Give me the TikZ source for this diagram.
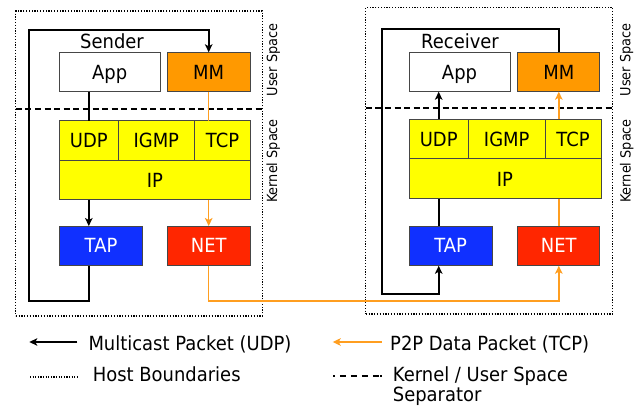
\documentclass[tikz,border=0pt]{standalone}
\usepackage{fontspec}
\setmainfont[FakeStretch=0.92]{DejaVu Sans}
\usetikzlibrary{arrows.meta}

\definecolor{mmorange}{RGB}{255,153,0}
\definecolor{lineorange}{RGB}{255,158,32}
\definecolor{tapblue}{RGB}{16,48,255}
\definecolor{netred}{RGB}{255,38,0}
\definecolor{stackyellow}{RGB}{255,255,0}
\definecolor{edgegray}{RGB}{70,70,70}

\begin{document}
\begin{tikzpicture}[x=1pt,y=-1pt,
  layer/.style={draw=edgegray, line width=1pt, inner sep=0pt, outer sep=0pt,
    text height=14.2pt, text depth=0pt, font=\fontsize{19.5}{22}\selectfont},
  host/.style={draw=black, line width=1.4pt, dash pattern=on 1.2pt off 1.6pt,
    inner sep=0pt, outer sep=0pt},
  sep/.style={draw=black, line width=1.6pt, dash pattern=on 6pt off 3.6pt},
  mcast/.style={draw=black, line width=1.7pt},
  p2p/.style={draw=lineorange, line width=1.5pt},
  tip/.style={-{Stealth[length=8pt,width=7.5pt,inset=2pt]}},
  title/.style={font=\fontsize{19.5}{22}\selectfont, anchor=base},
  side/.style={font=\fontsize{14}{16}\selectfont, rotate=90},
  legend/.style={font=\fontsize{19.5}{22}\selectfont, anchor=base west, inner sep=0pt}
]
\useasboundingbox (0,0) rectangle (643,406);

% ---------------- Sender host ----------------
\node[host, minimum width=246.6pt, minimum height=305pt] (sHost) at (139,163.5) {};
\coordinate (sSepY) at (0,109);
\draw[sep] (sHost.west |- sSepY) -- (sHost.east |- sSepY);

\node[title] (sTitle) at (112,48.3) {Sender};
\node[layer, fill=white, minimum width=100.7pt, minimum height=39.4pt] (sApp) at (109.7,72) {App};
\node[layer, fill=mmorange, minimum width=82.7pt, minimum height=39.4pt] (sMM) at (208.7,72) {MM};

\node[layer, fill=stackyellow, minimum width=59pt, minimum height=39.7pt] (sUDP) at (88.8,140.85) {UDP};
\node[layer, fill=stackyellow, minimum width=76pt, minimum height=39.7pt] (sIGMP) at (156.3,140.85) {IGMP};
\node[layer, fill=stackyellow, minimum width=56.4pt, minimum height=39.7pt] (sTCP) at (222.5,140.85) {TCP};
\node[layer, fill=stackyellow, minimum width=191.4pt, minimum height=39.3pt] (sIP) at (155,180.35) {IP};

\node[layer, fill=tapblue, text=white, minimum width=83.4pt, minimum height=39.7pt] (sTAP) at (101,245.9) {TAP};
\node[layer, fill=netred, text=white, minimum width=82.7pt, minimum height=39.7pt] (sNET) at (208.7,245.9) {NET};

\node[side] (sUser) at (273.3,60) {User Space};
\node[side] (sKernel) at (273.3,161) {Kernel Space};

% multicast path through the sender
\draw[mcast] (sApp.south -| sUDP.center) -- (sUDP.north);
\draw[mcast, tip] (sIP.south -| sUDP.center) -- (sTAP.north -| sUDP.center);
\coordinate (sLoopBL) at (28.7,301);
\coordinate (sLoopTL) at (28.7,30);
\draw[mcast, tip] (sTAP.south -| sUDP.center) |- (sLoopBL) -- (sLoopTL) -| (sMM.north);

% data path through the sender
\draw[p2p] (sMM.south) -- (sMM.south |- sTCP.north);
\draw[p2p, tip] (sIP.south -| sNET.north) -- (sNET.north);

% ---------------- Receiver host ----------------
\node[host, minimum width=247pt, minimum height=306.3pt] (rHost) at (489.2,160.85) {};
\coordinate (rSepY) at (0,108.3);
\draw[sep] (rHost.west |- rSepY) -- (rHost.east |- rSepY);

\node[title] (rTitle) at (460,48.3) {Receiver};
\node[layer, fill=white, minimum width=101pt, minimum height=39.4pt] (rApp) at (459.5,72) {App};
\node[layer, fill=mmorange, minimum width=82.3pt, minimum height=39.4pt] (rMM) at (558.8,72) {MM};

\node[layer, fill=stackyellow, minimum width=59.3pt, minimum height=39.7pt] (rUDP) at (438.7,139.2) {UDP};
\node[layer, fill=stackyellow, minimum width=76.7pt, minimum height=39.7pt] (rIGMP) at (506.7,139.2) {IGMP};
\node[layer, fill=stackyellow, minimum width=56pt, minimum height=39.7pt] (rTCP) at (573,139.2) {TCP};
\node[layer, fill=stackyellow, minimum width=192pt, minimum height=40pt] (rIP) at (505,179) {IP};

\node[layer, fill=tapblue, text=white, minimum width=83.3pt, minimum height=39.7pt] (rTAP) at (450.7,245.9) {TAP};
\node[layer, fill=netred, text=white, minimum width=82.3pt, minimum height=39.7pt] (rNET) at (558.8,245.9) {NET};

\node[side] (rUser) at (626.7,60) {User Space};
\node[side] (rKernel) at (626.7,161) {Kernel Space};

% multicast path through the receiver
\coordinate (rLoopTL) at (381.7,29.3);
\coordinate (rLoopBL) at (381.7,294.3);
\draw[mcast, tip] (rMM.north) |- (rLoopTL) -- (rLoopBL) -| (rTAP.south -| rUDP.center);
\draw[mcast] (rTAP.north -| rUDP.center) -- (rIP.south -| rUDP.center);
\draw[mcast, tip] (rUDP.north) -- (rApp.south -| rUDP.center);

% data path through the receiver
\draw[p2p] (rNET.north) -- (rIP.south -| rNET.north);
\draw[p2p, tip] (rMM.south |- rTCP.north) -- (rMM.south);

% link between the two hosts
\coordinate (p2pY) at (0,301);
\draw[p2p, tip] (sNET.south) |- (rNET.south |- p2pY) -- (rNET.south);

% ---------------- Legend ----------------
\coordinate (lgMcA) at (77.3,342);
\coordinate (lgMcB) at (29.3,342);
\draw[mcast, line width=1.5pt, tip] (lgMcA) -- (lgMcB);
\node[legend] (lgMcText) at (88.3,350.5) {Multicast Packet (UDP)};

\coordinate (lgP2pA) at (381.7,342);
\coordinate (lgP2pB) at (332.7,342);
\draw[p2p, tip] (lgP2pA) -- (lgP2pB);
\node[legend] (lgP2pText) at (390,350.5) {P2P Data Packet (TCP)};

\coordinate (lgHostA) at (30,377);
\coordinate (lgHostB) at (78,377);
\draw[black, line width=1.3pt, dash pattern=on 1.1pt off 1.5pt] (lgHostA) -- (lgHostB);
\node[legend] (lgHostText) at (92.7,381) {Host Boundaries};

\coordinate (lgSepA) at (333.3,376);
\coordinate (lgSepB) at (381.7,376);
\draw[black, line width=1.3pt, dash pattern=on 1.5pt off 5pt on 6pt off 5pt on 6pt off 5pt on 6pt off 5pt on 6pt] (lgSepA) -- (lgSepB);
\node[legend] (lgSepText) at (392.7,381) {Kernel / User Space};
\node[legend] (lgSepText2) at (392.7,401) {Separator};
\end{tikzpicture}
\end{document}
